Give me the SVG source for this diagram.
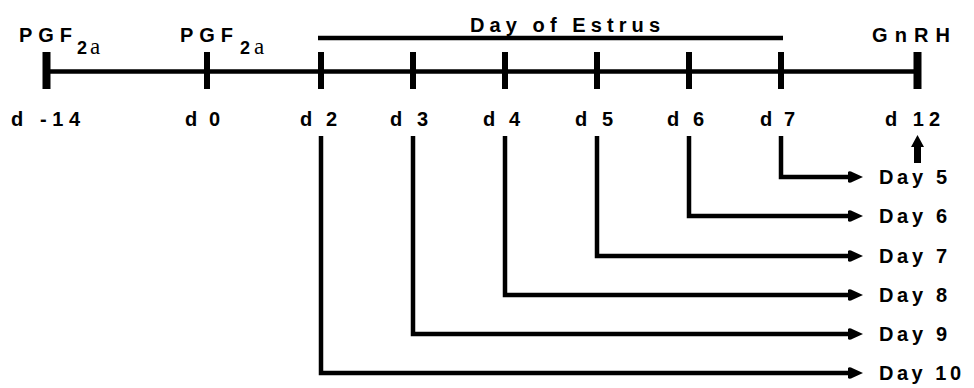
<svg xmlns="http://www.w3.org/2000/svg" width="974" height="388" viewBox="0 0 974 388">
<style>
.t{font-family:"Liberation Sans",Arial,sans-serif;font-weight:bold;font-size:20px;fill:#000}
.s{font-family:"Liberation Sans",Arial,sans-serif;font-weight:bold;font-size:18px;fill:#000}
.g{font-family:"Liberation Serif","Times New Roman",serif;font-size:23px;fill:#000}
.ln{stroke:#000;stroke-width:4.5;fill:none}
.tk{stroke:#000;stroke-width:6}
.tkw{stroke:#000;stroke-width:8}
</style>
<defs>
<marker id="ah" markerWidth="16" markerHeight="12" refX="4" refY="6" orient="auto" markerUnits="userSpaceOnUse">
<path d="M0,1 Q1,0 3,0.5 L15,6 L3,11.5 Q1,12 0,11 Z" fill="#000"/>
</marker>
</defs>
<g id="timeline">
<line class="ln" x1="46" y1="71.5" x2="918" y2="71.5"/>
<line class="tkw" x1="46.5" y1="52" x2="46.5" y2="89"/>
<line class="tk" x1="207" y1="52" x2="207" y2="89"/>
<line class="tk" x1="321" y1="52" x2="321" y2="89"/>
<line class="tk" x1="413" y1="52" x2="413" y2="89"/>
<line class="tk" x1="505" y1="52" x2="505" y2="89"/>
<line class="tk" x1="597" y1="52" x2="597" y2="89"/>
<line class="tk" x1="689" y1="52" x2="689" y2="89"/>
<line class="tk" x1="781" y1="52" x2="781" y2="89"/>
<line class="tkw" x1="917.5" y1="52" x2="917.5" y2="89"/>
</g>
<g id="estrus">
<line class="ln" x1="318" y1="38" x2="783" y2="38"/>
<text class="t" x="470" y="31.5" textLength="190" lengthAdjust="spacing">Day of Estrus</text>
</g>
<g id="pgf1">
<text class="t" x="19" y="42" textLength="53" lengthAdjust="spacing">PGF</text>
<text class="s" x="77" y="54">2</text>
<text class="g" x="90" y="54">a</text>
</g>
<g id="pgf2">
<text class="t" x="180" y="42" textLength="53" lengthAdjust="spacing">PGF</text>
<text class="s" x="240" y="54">2</text>
<text class="g" x="254" y="54">a</text>
</g>
<g id="gnrh">
<text class="t" x="872" y="42" textLength="78" lengthAdjust="spacing">GnRH</text>
</g>
<g id="daylabels">
<text class="t" x="11" y="126" textLength="69" lengthAdjust="spacing">d -14</text>
<text class="t" x="185" y="126" textLength="35" lengthAdjust="spacing">d 0</text>
<text class="t" x="300" y="126" textLength="37" lengthAdjust="spacing">d 2</text>
<text class="t" x="390" y="126" textLength="38" lengthAdjust="spacing">d 3</text>
<text class="t" x="483" y="126" textLength="37" lengthAdjust="spacing">d 4</text>
<text class="t" x="575" y="126" textLength="38" lengthAdjust="spacing">d 5</text>
<text class="t" x="667" y="126" textLength="37" lengthAdjust="spacing">d 6</text>
<text class="t" x="760" y="126" textLength="35" lengthAdjust="spacing">d 7</text>
<text class="t" x="885" y="126" textLength="55" lengthAdjust="spacing">d 12</text>
</g>
<g id="connectors">
<polyline class="ln" points="781,136 781,177 852,177" marker-end="url(#ah)"/>
<polyline class="ln" points="689,136 689,216 852,216" marker-end="url(#ah)"/>
<polyline class="ln" points="597,136 597,256 852,256" marker-end="url(#ah)"/>
<polyline class="ln" points="505,136 505,295 852,295" marker-end="url(#ah)"/>
<polyline class="ln" points="413,136 413,334 852,334" marker-end="url(#ah)"/>
<polyline class="ln" points="321,136 321,373 852,373" marker-end="url(#ah)"/>
<path d="M917.5,135 L924,147 L921,147 L921,163 L914,163 L914,147 L911,147 Z" fill="#000"/>
</g>
<g id="results">
<text class="t" x="879" y="184" textLength="68" lengthAdjust="spacing">Day 5</text>
<text class="t" x="879" y="223" textLength="68" lengthAdjust="spacing">Day 6</text>
<text class="t" x="879" y="263" textLength="68" lengthAdjust="spacing">Day 7</text>
<text class="t" x="879" y="302" textLength="68" lengthAdjust="spacing">Day 8</text>
<text class="t" x="879" y="341" textLength="68" lengthAdjust="spacing">Day 9</text>
<text class="t" x="879" y="380" textLength="82" lengthAdjust="spacing">Day 10</text>
</g>
</svg>
